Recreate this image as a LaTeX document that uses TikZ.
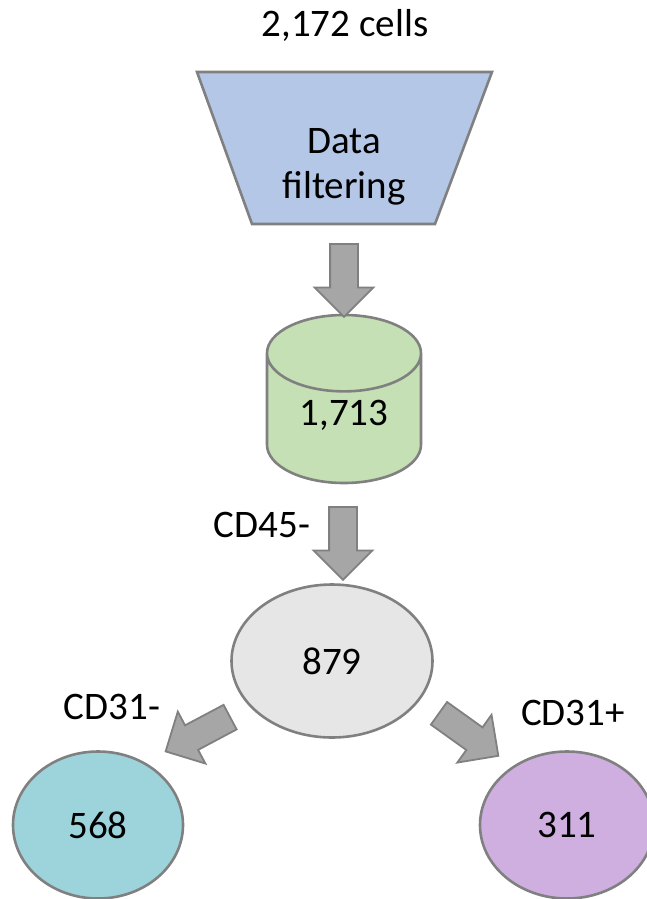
\documentclass[tikz,border=0pt]{standalone}
\usepackage{fontspec}
\setmainfont{Carlito}
\usetikzlibrary{shapes.geometric,shapes.arrows,positioning}

\definecolor{edgegray}{RGB}{128,128,128}
\definecolor{arrowgray}{RGB}{166,166,166}
\definecolor{filterblue}{RGB}{180,199,231}
\definecolor{storegreen}{RGB}{197,224,180}
\definecolor{poolgray}{RGB}{231,230,230}
\definecolor{negteal}{RGB}{157,212,220}
\definecolor{pospurple}{RGB}{206,175,224}

\begin{document}
\begin{tikzpicture}[
    x=1pt, y=1pt,
    font=\fontsize{39}{45}\selectfont,
    shapeline/.style={draw=edgegray, line width=2.6pt},
    storebox/.style={shapeline, cylinder, shape border rotate=90, shape aspect=0.8, minimum width=154pt, minimum height=168pt, text depth=23pt, fill=storegreen},
    cellpool/.style={shapeline, ellipse, inner sep=0pt},
    blockarrow/.style={single arrow, draw=edgegray, line width=1.8pt, fill=arrowgray, minimum height=73pt, inner xsep=0pt, inner ysep=13pt, single arrow head extend=15.5pt, single arrow head indent=0pt}
]
\useasboundingbox (0,0) rectangle (646,-899);

\node (total) at (345,-25) {2,172 cells};

% filter funnel
\coordinate (ftl) at (197,-72);
\coordinate (ftr) at (492,-72);
\coordinate (fbr) at (435,-224);
\coordinate (fbl) at (252,-224);
\draw[shapeline, fill=filterblue] (ftl) -- (ftr) -- (fbr) -- (fbl) -- cycle;
\node[align=center] (filter) at (344,-167) {Data\\filtering};

\node[storebox, anchor=shape center] (store) at (344,-399) {1,713};
\node[cellpool, fill=poolgray, minimum width=201pt, minimum height=153pt] (pool) at (332,-661) {879};
\node[cellpool, fill=negteal, minimum width=170pt, minimum height=147pt] (neg) at (98,-825) {568};
\node[cellpool, fill=pospurple, minimum width=174pt, minimum height=147pt] (pos) at (567,-825) {311};

% gates
\node (cd45) at (262,-525) {CD45-};
\node (cd31neg) at (112,-707) {CD31-};
\node (cd31pos) at (573,-713) {CD31+};

% block arrows
\node[blockarrow, rotate=-90] (filter2store) at (344,-273.5) {};
\node[blockarrow, rotate=-90] (store2pool) at (343,-536.5) {};
\node[blockarrow, rotate=208] (pool2neg) at (204,-731) {};
\node[blockarrow, rotate=-35.6] (pool2pos) at (463,-730.5) {};
\end{tikzpicture}
\end{document}
